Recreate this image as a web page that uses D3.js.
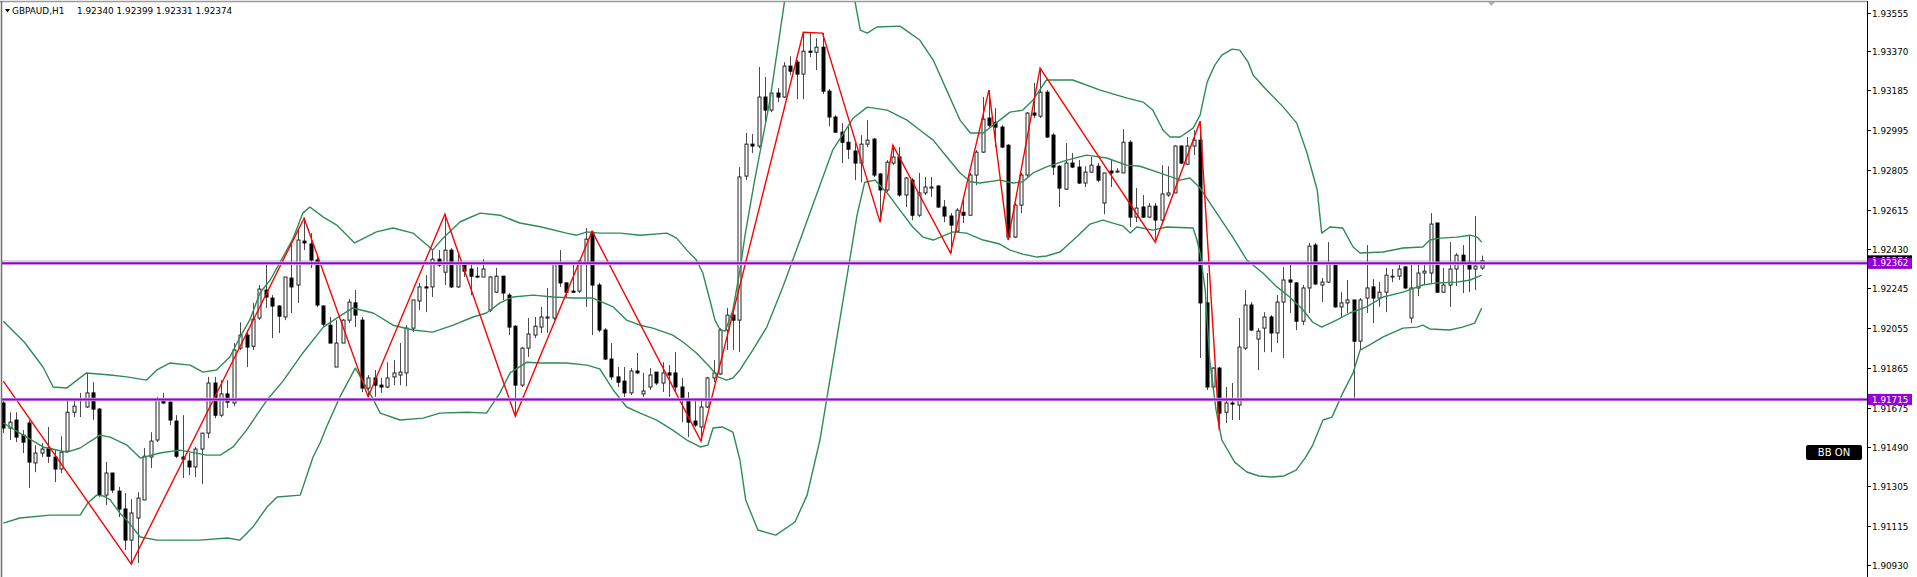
<!DOCTYPE html>
<html><head><meta charset="utf-8">
<script src="https://cdn.jsdelivr.net/npm/d3@7"></script>
<style>
html,body{margin:0;padding:0;background:#fff;overflow:hidden;}
svg{display:block;}
text{font-family:"DejaVu Sans",sans-serif;}
</style></head><body>
<svg id="chart" width="1917" height="577"></svg>
<script>
// ---------------- DATA ----------------
const symbol = "GBPAUD,H1";
const lastOHLC = [1.92340, 1.92399, 1.92331, 1.92374];
const bidPrice = 1.92374;
const levels = [1.92362, 1.91715];
const indicatorLabel = "BB ON";
const yTickLabels = ["1.93555","1.93370","1.93185","1.92995","1.92805","1.92615","1.92430","1.92245","1.92055","1.91865","1.91675","1.91490","1.91305","1.91115","1.90930"];

const open = [
1.91698,1.91579,1.91617,1.91545,1.91603,1.91413,1.91460,1.91484,1.91441,1.91384,
1.91469,1.91654,1.91712,1.91679,1.91746,1.91669,1.91260,1.91365,1.91279,1.91194,
1.91046,1.91151,1.91237,1.91441,1.91522,1.91717,1.91702,1.91612,1.91441,1.91422,
1.91394,1.91479,1.91555,1.91793,1.91640,1.91741,1.91698,1.91959,1.92021,1.91968,
1.92102,1.92235,1.92197,1.92159,1.92107,1.92292,1.92259,1.92468,1.92454,1.92378,
1.92159,1.92068,1.91869,1.91983,1.92092,1.92174,1.92092,1.91769,1.91817,1.91783,
1.91774,1.91822,1.91831,1.91841,1.92054,1.92183,1.92250,1.92250,1.92382,1.92320,
1.92425,1.92250,1.92364,1.92335,1.92301,1.92297,1.92140,1.92225,1.92301,1.92211,
1.92063,1.91783,1.91959,1.92021,1.92059,1.92102,1.92102,1.92364,1.92269,1.92230,
1.92230,1.92368,1.92510,1.92259,1.92045,1.91907,1.91822,1.91802,1.91746,1.91850,
1.91741,1.91774,1.91845,1.91793,1.91841,1.91841,1.91774,1.91712,1.91612,1.91584,
1.91679,1.91817,1.91836,1.92045,1.92116,1.92092,1.92777,1.92929,1.92920,1.93153,
1.93091,1.93172,1.93153,1.93300,1.93319,1.93262,1.93371,1.93366,1.93390,1.93181,
1.93058,1.92986,1.92938,1.92896,1.92839,1.92929,1.92953,1.92787,1.92711,1.92839,
1.92868,1.92687,1.92758,1.92591,1.92697,1.92720,1.92730,1.92630,1.92587,1.92515,
1.92605,1.92591,1.92782,1.92891,1.93053,1.93033,1.93010,1.92924,1.92487,1.92639,
1.92782,1.93077,1.93062,1.93176,1.92972,1.92824,1.92715,1.92839,1.92820,1.92744,
1.92796,1.92824,1.92649,1.92801,1.92796,1.92792,1.92938,1.92582,1.92630,1.92582,
1.92634,1.92568,1.92687,1.92697,1.92920,1.92834,1.92920,1.92948,1.92174,1.91774,
1.91864,1.91654,1.91698,1.91688,1.91959,1.92164,1.92002,1.92054,1.92107,1.92031,
1.92178,1.92283,1.92269,1.92087,1.92245,1.92449,1.92259,1.92273,1.92364,1.92155,
1.92174,1.92188,1.91992,1.92197,1.92250,1.92197,1.92225,1.92297,1.92301,1.92345,
1.92102,1.92245,1.92316,1.92316,1.92554,1.92225,1.92259,1.92335,1.92401,1.92368,
1.92335,1.92340];
const high = [
1.91712,1.91654,1.91654,1.91569,1.91617,1.91498,1.91508,1.91584,1.91474,1.91540,
1.91712,1.91722,1.91746,1.91841,1.91797,1.91674,1.91417,1.91365,1.91299,1.91270,
1.91241,1.91274,1.91484,1.91559,1.91727,1.91746,1.91712,1.91640,1.91640,1.91460,
1.91489,1.91555,1.91822,1.91822,1.91807,1.91807,1.91983,1.92082,1.92045,1.92174,
1.92259,1.92364,1.92211,1.92164,1.92297,1.92459,1.92520,1.92577,1.92506,1.92401,
1.92164,1.92107,1.92092,1.92097,1.92192,1.92235,1.92107,1.91831,1.91855,1.91817,
1.91892,1.91902,1.91983,1.92068,1.92188,1.92269,1.92306,1.92425,1.92425,1.92596,
1.92435,1.92415,1.92368,1.92368,1.92345,1.92382,1.92301,1.92340,1.92301,1.92221,
1.92068,1.91964,1.92102,1.92107,1.92155,1.92245,1.92364,1.92425,1.92273,1.92368,
1.92378,1.92530,1.92515,1.92269,1.92054,1.91983,1.91869,1.91869,1.91864,1.91936,
1.91841,1.91864,1.91845,1.91892,1.91878,1.91940,1.91817,1.91750,1.91722,1.91712,
1.91822,1.91902,1.92054,1.92150,1.92150,1.92820,1.92982,1.92977,1.93296,1.93248,
1.93191,1.93196,1.93319,1.93347,1.93329,1.93461,1.93461,1.93433,1.93457,1.93191,
1.93067,1.93029,1.93014,1.92934,1.92972,1.93043,1.92958,1.92792,1.92853,1.92924,
1.92915,1.92773,1.92768,1.92792,1.92773,1.92773,1.92734,1.92663,1.92601,1.92625,
1.92663,1.92792,1.92901,1.93153,1.93186,1.93100,1.93019,1.92929,1.92649,1.92792,
1.93081,1.93220,1.93291,1.93186,1.92982,1.92829,1.92934,1.92887,1.92853,1.92824,
1.92868,1.92839,1.92792,1.92853,1.92815,1.93000,1.92948,1.92720,1.92687,1.92649,
1.92649,1.92829,1.92824,1.92924,1.92924,1.92963,1.92996,1.93038,1.92316,1.91869,
1.91869,1.91774,1.91793,1.92102,1.92235,1.92178,1.92054,1.92130,1.92116,1.92211,
1.92345,1.92364,1.92273,1.92259,1.92459,1.92459,1.92292,1.92463,1.92368,1.92225,
1.92283,1.92188,1.92197,1.92449,1.92287,1.92273,1.92340,1.92335,1.92364,1.92349,
1.92364,1.92368,1.92354,1.92601,1.92554,1.92340,1.92463,1.92411,1.92449,1.92496,
1.92587,1.92399];
const low = [
1.91555,1.91522,1.91512,1.91460,1.91294,1.91369,1.91441,1.91413,1.91322,1.91365,
1.91464,1.91631,1.91631,1.91674,1.91617,1.91251,1.91213,1.91270,1.91156,1.90999,
1.90937,1.90937,1.91237,1.91389,1.91512,1.91693,1.91593,1.91436,1.91341,1.91355,
1.91346,1.91313,1.91531,1.91626,1.91631,1.91674,1.91683,1.91950,1.91869,1.91950,
1.92092,1.92150,1.92007,1.92031,1.92092,1.92126,1.92174,1.92425,1.92340,1.92155,
1.92059,1.91983,1.91869,1.91983,1.92078,1.92059,1.91750,1.91727,1.91727,1.91746,
1.91769,1.91783,1.91783,1.91778,1.92035,1.92140,1.92130,1.92202,1.92345,1.92259,
1.92245,1.92245,1.92297,1.92211,1.92292,1.92297,1.92130,1.92221,1.92188,1.92021,
1.91635,1.91774,1.91917,1.92007,1.92031,1.92031,1.92092,1.92250,1.92202,1.92221,
1.92221,1.92155,1.92021,1.92035,1.91902,1.91807,1.91774,1.91727,1.91736,1.91836,
1.91727,1.91760,1.91783,1.91750,1.91727,1.91750,1.91607,1.91536,1.91584,1.91517,
1.91674,1.91797,1.91831,1.91950,1.91950,1.91940,1.92758,1.92887,1.92910,1.93033,
1.93081,1.93129,1.93148,1.93257,1.93143,1.93143,1.93343,1.93281,1.93167,1.93014,
1.92982,1.92839,1.92858,1.92758,1.92748,1.92915,1.92773,1.92558,1.92701,1.92829,
1.92678,1.92630,1.92568,1.92582,1.92687,1.92678,1.92625,1.92558,1.92411,1.92510,
1.92554,1.92591,1.92734,1.92887,1.93010,1.92915,1.92910,1.92473,1.92482,1.92601,
1.92773,1.93053,1.93053,1.92958,1.92782,1.92630,1.92711,1.92815,1.92739,1.92725,
1.92792,1.92748,1.92596,1.92725,1.92792,1.92792,1.92535,1.92558,1.92577,1.92577,
1.92473,1.92554,1.92678,1.92697,1.92834,1.92829,1.92877,1.91912,1.91760,1.91769,
1.91569,1.91603,1.91617,1.91617,1.91950,1.92040,1.91855,1.91940,1.91940,1.91983,
1.91912,1.92126,1.92045,1.92068,1.92126,1.92259,1.92178,1.92269,1.92150,1.92102,
1.92126,1.91722,1.91950,1.92126,1.92078,1.92155,1.92130,1.92273,1.92283,1.92240,
1.92078,1.92206,1.92264,1.92269,1.92221,1.92221,1.92155,1.92254,1.92221,1.92225,
1.92235,1.92331];
const close = [
1.91579,1.91607,1.91536,1.91512,1.91417,1.91460,1.91479,1.91445,1.91384,1.91464,
1.91654,1.91683,1.91717,1.91746,1.91669,1.91260,1.91365,1.91284,1.91194,1.91046,
1.91175,1.91246,1.91445,1.91517,1.91712,1.91698,1.91617,1.91445,1.91431,1.91394,
1.91479,1.91555,1.91793,1.91640,1.91741,1.91702,1.91950,1.92021,1.91964,1.92097,
1.92240,1.92202,1.92159,1.92111,1.92297,1.92250,1.92473,1.92459,1.92378,1.92164,
1.92073,1.91983,1.91983,1.92092,1.92178,1.92116,1.91769,1.91817,1.91783,1.91774,
1.91817,1.91841,1.91845,1.92054,1.92188,1.92250,1.92245,1.92382,1.92354,1.92425,
1.92250,1.92364,1.92325,1.92301,1.92297,1.92335,1.92297,1.92301,1.92221,1.92059,
1.91783,1.91959,1.92026,1.92063,1.92107,1.92107,1.92364,1.92269,1.92225,1.92225,
1.92373,1.92477,1.92259,1.92045,1.91907,1.91822,1.91797,1.91746,1.91850,1.91841,
1.91755,1.91831,1.91793,1.91841,1.91831,1.91774,1.91712,1.91607,1.91593,1.91679,
1.91817,1.91841,1.92045,1.92116,1.92092,1.92773,1.92929,1.92920,1.93153,1.93091,
1.93172,1.93153,1.93300,1.93276,1.93262,1.93371,1.93366,1.93390,1.93181,1.93058,
1.92986,1.92938,1.92905,1.92839,1.92929,1.92948,1.92782,1.92711,1.92843,1.92868,
1.92687,1.92768,1.92591,1.92697,1.92725,1.92725,1.92630,1.92587,1.92544,1.92615,
1.92591,1.92782,1.92891,1.93048,1.93019,1.93010,1.92915,1.92487,1.92639,1.92782,
1.93077,1.93067,1.93176,1.92963,1.92820,1.92720,1.92839,1.92820,1.92744,1.92796,
1.92829,1.92758,1.92792,1.92792,1.92801,1.92938,1.92582,1.92625,1.92582,1.92634,
1.92568,1.92692,1.92697,1.92920,1.92839,1.92920,1.92948,1.92174,1.91774,1.91864,
1.91650,1.91698,1.91693,1.91964,1.92164,1.92045,1.92040,1.92107,1.92031,1.92178,
1.92283,1.92273,1.92087,1.92245,1.92444,1.92264,1.92273,1.92364,1.92155,1.92174,
1.92188,1.91992,1.92188,1.92245,1.92197,1.92225,1.92306,1.92301,1.92335,1.92245,
1.92245,1.92316,1.92325,1.92549,1.92225,1.92259,1.92335,1.92401,1.92364,1.92335,
1.92349,1.92374];

// ZigZag turning points (bar index, price)
const zigzagIdx   = [0, 20, 47, 57, 69, 80, 92, 109, 125, 128, 137, 139, 148, 154, 157, 162, 180, 187, 190];
const zigzagPrice = [1.91802, 1.90932, 1.92577, 1.91727, 1.92596, 1.91635, 1.92515, 1.91517, 1.93461, 1.93457, 1.92558, 1.92924, 1.92411, 1.93186, 1.92473, 1.93291, 1.92463, 1.93038, 1.91569];

// Bollinger Bands (bar position, price)
const bbUpperIdx = [0,3.3,6.2,7.8,9.9,13,16.7,19.3,22.4,24,26,29.2,31.2,33.3,35.4,37,38.5,40.1,41.7,43.7,45.3,46.8,47.9,50,52.1,54.9,58.3,60.9,64,66.2,67.1,68.7,71.4,74.5,77.6,80.7,83.9,88,89.6,91.2,93.2,96.4,99.5,103.7,105.2,106.8,108.3,109.3,110.4,111.2,112,112.8,114,115.1,115.9,117.4,119.8,122.1,124.5,127.6,130.7,133.1,133.9,135,136.5,140.1,143.2,145.3,147.4,149.5,151.1,153.1,155.7,157.3,159.3,160.9,163,167.1,171.4,175.6,178.1,179.6,181.2,182.3,183.9,185.9,187,188.1,189.3,190.4,192,193.2,194.5,195.3,197.1,200,202.1,203.7,205.3,206,207.3,209.3,210.9,212,215.6,218.7,221.8,222.9,224.5,227.1,229.2,230.3,231];
const bbUpper = [1.92087,1.91987,1.91869,1.91774,1.91769,1.91841,1.91831,1.91822,1.91807,1.91855,1.91888,1.91878,1.91845,1.91855,1.91917,1.92012,1.92092,1.92221,1.92283,1.92392,1.92482,1.92601,1.92630,1.92582,1.92544,1.92459,1.92512,1.92530,1.92506,1.92449,1.92425,1.92482,1.92560,1.92601,1.92591,1.92554,1.92536,1.92506,1.92496,1.92512,1.92506,1.92506,1.92496,1.92506,1.92482,1.92425,1.92378,1.92316,1.92188,1.92092,1.92045,1.92040,1.92140,1.92330,1.92496,1.92758,1.93139,1.93614,1.93852,1.93994,1.93852,1.93604,1.93471,1.93457,1.93486,1.93490,1.93424,1.93329,1.93186,1.93043,1.92982,1.92982,1.93043,1.93081,1.93091,1.93139,1.93234,1.93234,1.93186,1.93148,1.93129,1.93091,1.92996,1.92963,1.92963,1.93005,1.93067,1.93224,1.93305,1.93352,1.93381,1.93376,1.93319,1.93257,1.93196,1.93105,1.93029,1.92887,1.92711,1.92506,1.92535,1.92530,1.92440,1.92411,1.92416,1.92435,1.92440,1.92473,1.92482,1.92487,1.92496,1.92487,1.92463];

const bbMidIdx = [0,2.6,6.2,10,12,15.1,16.7,19.3,21.4,24.5,27.6,31.8,33.9,35.9,38,41.2,43.7,46.8,50,52.1,54.6,57.8,60.9,64,67.1,70.3,73.4,75.5,77.6,79.6,82.8,85.9,89,92.1,95.3,97.4,99.5,101.5,104.6,106.2,108.3,110.4,111.7,113,114,115.1,117.1,119.3,121.8,124.5,129.6,132.8,135,138.1,141.2,143.2,145.3,147.4,149.5,151.1,152.6,155.7,157.8,159.3,160.9,163,166.2,169.3,172.4,175.5,177.6,180.7,183.9,185.4,187,189.6,192.1,194.3,196.8,199,201,203.1,204.6,206,208.3,210.4,213,215.6,218.7,221.8,224,227.1,229.2,231];
const bbMid = [1.91603,1.91555,1.91489,1.91464,1.91484,1.91545,1.91536,1.91498,1.91436,1.91460,1.91474,1.91450,1.91450,1.91489,1.91569,1.91712,1.91802,1.91936,1.92059,1.92102,1.92150,1.92126,1.92068,1.92045,1.92035,1.92068,1.92107,1.92126,1.92174,1.92202,1.92211,1.92202,1.92197,1.92197,1.92155,1.92092,1.92068,1.92054,1.92021,1.91988,1.91936,1.91869,1.91822,1.91807,1.91817,1.91855,1.91950,1.92059,1.92250,1.92473,1.92901,1.93053,1.93105,1.93091,1.93043,1.92996,1.92948,1.92869,1.92792,1.92750,1.92744,1.92758,1.92744,1.92750,1.92792,1.92821,1.92853,1.92877,1.92863,1.92829,1.92824,1.92792,1.92758,1.92768,1.92720,1.92601,1.92487,1.92378,1.92316,1.92250,1.92202,1.92140,1.92082,1.92059,1.92092,1.92126,1.92155,1.92202,1.92225,1.92259,1.92269,1.92273,1.92283,1.92306];

const bbLowerIdx = [0,2.6,7.3,12,13.2,14.6,15.6,16.7,18.2,19.3,21.4,24,30.7,35,37,39,41.2,42.8,46.4,48.4,49.5,50.5,52.6,55,57.6,58.9,62,65.6,68.2,72.4,75.5,77.6,79.2,81.8,83.9,88,91.2,93.2,95.3,97.4,99.5,102.1,104.6,106.8,108.9,110.1,110.9,112.3,114,115.1,116,117.9,120.7,123.7,125.6,127.6,130.7,133.4,134.6,136.2,138.1,140.1,142.1,143.7,145.3,146.8,148.4,150.5,153.1,155.7,157.3,159.3,161.5,163,165.1,167.7,169.8,171.8,175,176.1,177.1,179.6,181.8,185.9,186.5,187,187.8,188.5,189.5,190.4,192.4,194.3,196.2,198.2,200.1,202,203.4,204.6,206.2,207.6,209.3,210.9,212,213.5,215.6,218.7,220.9,221.8,222.9,226,228,229.9,231];
const bbLower = [1.91127,1.91151,1.91165,1.91165,1.91222,1.91260,1.91256,1.91237,1.91175,1.91141,1.91061,1.91046,1.91046,1.91056,1.91046,1.91108,1.91203,1.91251,1.91260,1.91441,1.91508,1.91584,1.91727,1.91864,1.91727,1.91650,1.91617,1.91626,1.91650,1.91654,1.91650,1.91746,1.91841,1.91892,1.91888,1.91888,1.91878,1.91860,1.91760,1.91679,1.91650,1.91617,1.91569,1.91522,1.91489,1.91498,1.91579,1.91584,1.91560,1.91427,1.91237,1.91094,1.91070,1.91132,1.91260,1.91522,1.92092,1.92591,1.92748,1.92758,1.92697,1.92615,1.92535,1.92487,1.92473,1.92492,1.92512,1.92506,1.92473,1.92454,1.92425,1.92406,1.92392,1.92397,1.92416,1.92487,1.92549,1.92568,1.92539,1.92506,1.92535,1.92520,1.92535,1.92530,1.92473,1.92411,1.92235,1.91902,1.91664,1.91522,1.91417,1.91370,1.91351,1.91346,1.91351,1.91379,1.91436,1.91498,1.91617,1.91631,1.91746,1.91841,1.91950,1.91974,1.92012,1.92054,1.92059,1.92068,1.92050,1.92045,1.92059,1.92078,1.92150];

// ---------------- CHART ----------------
const W = 1917, H = 577;
const plotLeft = 2, plotRight = 1867, plotTop = 2;
const svg = d3.select("#chart");
const nBars = open.length;

const x = d3.scaleLinear().domain([0, nBars - 1]).range([3.3, 1481.7]);
const y = d3.scaleLinear().domain([1.90930, 1.93555]).range([564.5, 12.5]);

svg.append("defs").append("clipPath").attr("id", "plotClip")
  .append("rect").attr("x", plotLeft).attr("y", plotTop).attr("width", plotRight - plotLeft).attr("height", H - plotTop);

svg.append("rect").attr("width", W).attr("height", H).attr("fill", "#fff");

const plot = svg.append("g").attr("clip-path", "url(#plotClip)");

// bid line
plot.append("line").attr("x1", plotLeft).attr("x2", plotRight)
  .attr("y1", y(bidPrice)).attr("y2", y(bidPrice))
  .attr("stroke", "#c8c8c8").attr("stroke-width", 1.2);

// candles
const bars = d3.range(nBars);
const cg = plot.append("g");
cg.selectAll("line.wick").data(bars).join("line").attr("class", "wick")
  .attr("x1", i => Math.round(x(i)) + 0.5).attr("x2", i => Math.round(x(i)) + 0.5)
  .attr("y1", i => y(high[i])).attr("y2", i => y(low[i]))
  .attr("stroke", "#4a4a4a").attr("stroke-width", 1);
cg.selectAll("rect.body").data(bars).join("rect").attr("class", "body")
  .attr("x", i => Math.round(x(i)) - 1)
  .attr("width", 3)
  .attr("y", i => y(Math.max(open[i], close[i])))
  .attr("height", i => Math.max(0.8, Math.abs(y(open[i]) - y(close[i]))))
  .attr("fill", i => close[i] >= open[i] ? "#fff" : "#000")
  .attr("stroke", i => close[i] >= open[i] ? "#222" : "#000")
  .attr("stroke-width", 1);

// Bollinger bands
const bandColor = "#2E8B57";
function band(idx, vals) {
  const line = d3.line().x(d => x(d[0])).y(d => y(d[1]));
  plot.append("path").datum(idx.map((v, k) => [v, vals[k]]))
    .attr("d", line).attr("fill", "none").attr("stroke", bandColor)
    .attr("stroke-width", 1.4).attr("stroke-linejoin", "round");
}
band(bbUpperIdx, bbUpper);
band(bbMidIdx, bbMid);
band(bbLowerIdx, bbLower);

// ZigZag
plot.append("path").datum(zigzagIdx.map((v, k) => [v, zigzagPrice[k]]))
  .attr("d", d3.line().x(d => x(d[0])).y(d => y(d[1])))
  .attr("fill", "none").attr("stroke", "#ff0000").attr("stroke-width", 1.4);

// horizontal levels
levels.forEach(v => {
  plot.append("line").attr("x1", plotLeft).attr("x2", plotRight)
    .attr("y1", y(v)).attr("y2", y(v))
    .attr("stroke", "#dcc8ec").attr("stroke-width", 3.5);
  plot.append("line").attr("x1", plotLeft).attr("x2", plotRight)
    .attr("y1", y(v)).attr("y2", y(v))
    .attr("stroke", "#9400D3").attr("stroke-width", 2);
});

// frame
svg.append("line").attr("x1", 0).attr("x2", plotRight).attr("y1", 1.5).attr("y2", 1.5)
  .attr("stroke", "#9a9a9a").attr("stroke-width", 1.5);
svg.append("line").attr("x1", 1.5).attr("x2", 1.5).attr("y1", 1).attr("y2", H)
  .attr("stroke", "#707070").attr("stroke-width", 1.5);
svg.append("line").attr("x1", plotRight + 0.5).attr("x2", plotRight + 0.5).attr("y1", 1).attr("y2", H)
  .attr("stroke", "#000").attr("stroke-width", 1);

// chart shift marker
svg.append("path").attr("d", "M1488,2 L1495,2 L1491.5,6 Z").attr("fill", "#b0b0b0");

// y axis
const ax = svg.append("g");
yTickLabels.forEach(t => {
  const yy = Math.round(y(+t)) + 0.5;
  ax.append("line").attr("x1", plotRight).attr("x2", plotRight + 4).attr("y1", yy).attr("y2", yy)
    .attr("stroke", "#000").attr("stroke-width", 1);
  ax.append("text").attr("x", 1872).attr("y", yy).attr("dy", "0.35em")
    .attr("font-size", 8.8).attr("fill", "#000").text(t);
});

// price labels
function priceLabel(v, bg) {
  const yy = y(v);
  svg.append("rect").attr("x", plotRight + 1).attr("y", yy - 5.5).attr("width", 44).attr("height", 11).attr("fill", bg);
  svg.append("text").attr("x", 1872).attr("y", yy).attr("dy", "0.35em")
    .attr("font-size", 8.8).attr("fill", "#fff").text(v.toFixed(5));
}
priceLabel(bidPrice, "#000");
levels.forEach(v => priceLabel(v, "#9400D3"));

// title
svg.append("path").attr("d", "M5,9 L10,9 L7.5,12.5 Z").attr("fill", "#000");
svg.append("text").attr("x", 12).attr("y", 13.5).attr("font-size", 8.9).attr("fill", "#000").text(symbol);
svg.append("text").attr("x", 77).attr("y", 13.5).attr("font-size", 8.9).attr("fill", "#000")
  .text(lastOHLC.map(v => v.toFixed(5)).join(" "));

// indicator label
svg.append("rect").attr("x", 1806).attr("y", 445).attr("width", 56).attr("height", 15).attr("rx", 2).attr("fill", "#000");
svg.append("text").attr("x", 1834).attr("y", 452.5).attr("dy", "0.36em").attr("text-anchor", "middle")
  .attr("font-size", 10).attr("fill", "#fff").text(indicatorLabel);
</script>
</body></html>
